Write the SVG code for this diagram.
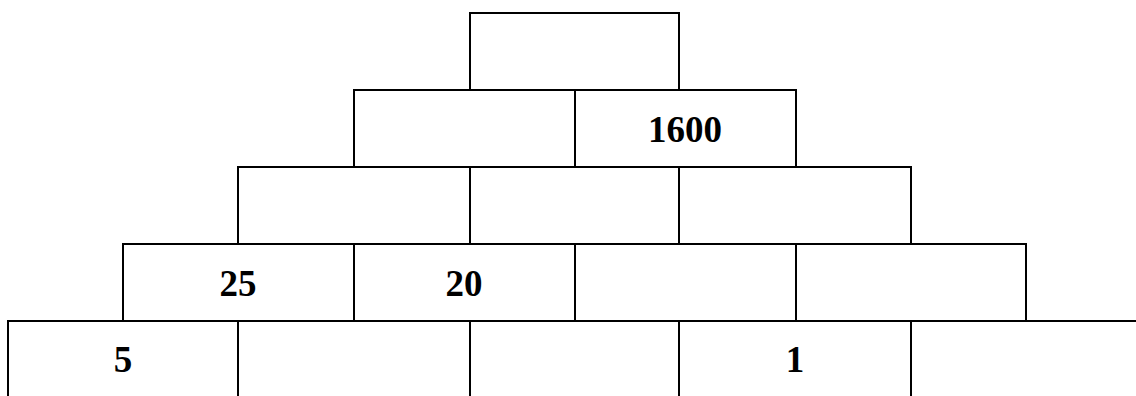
<svg xmlns="http://www.w3.org/2000/svg" width="1136" height="396" viewBox="0 0 1136 396">
<style>
.c{fill:#fff;stroke:#000;stroke-width:2}
.l{fill:none;stroke:#000;stroke-width:2}
.t{font-family:"Liberation Serif","Times New Roman",serif;font-weight:bold;font-size:37px;fill:#000;text-anchor:middle}
</style>
<rect width="1136" height="396" fill="#fff"/>
<g id="r1c1"><rect class="c" x="470" y="13" width="209" height="77"/></g>
<g id="r2c1"><rect class="c" x="354" y="90" width="221" height="77"/></g>
<g id="r2c2"><rect class="c" x="575" y="90" width="221" height="77"/><text class="t" x="685" y="142">1600</text></g>
<g id="r3c1"><rect class="c" x="238" y="167" width="232" height="77"/></g>
<g id="r3c2"><rect class="c" x="470" y="167" width="209" height="77"/></g>
<g id="r3c3"><rect class="c" x="679" y="167" width="232" height="77"/></g>
<g id="r4c1"><rect class="c" x="123" y="244" width="231" height="77"/><text class="t" x="238" y="296">25</text></g>
<g id="r4c2"><rect class="c" x="354" y="244" width="221" height="77"/><text class="t" x="464" y="296">20</text></g>
<g id="r4c3"><rect class="c" x="575" y="244" width="221" height="77"/></g>
<g id="r4c4"><rect class="c" x="796" y="244" width="230" height="77"/></g>
<g id="r5c1"><path class="l" d="M8 396V321H238"/><text class="t" x="123" y="372">5</text></g>
<g id="r5c2"><path class="l" d="M238 396V321H470"/></g>
<g id="r5c3"><path class="l" d="M470 396V321H679"/></g>
<g id="r5c4"><path class="l" d="M679 396V321H911"/><text class="t" x="795" y="372">1</text></g>
<g id="r5c5"><path class="l" d="M911 396V321H1136"/></g>
<g id="connectors"></g>
</svg>
